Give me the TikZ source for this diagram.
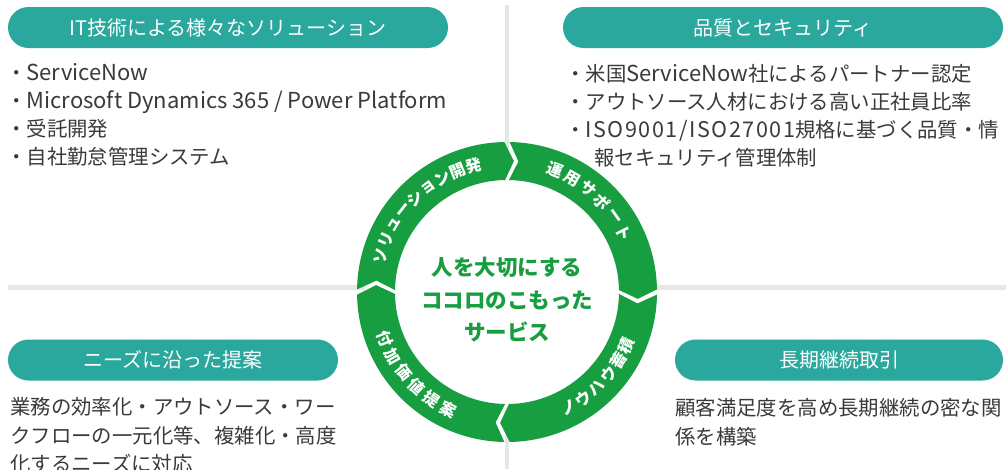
\documentclass[tikz,border=0pt]{standalone}
\usepackage{fontspec}
\setmainfont{Noto Sans CJK JP}
\newfontfamily\latwide[LetterSpace=7]{Noto Sans CJK JP}
\newcommand\lat[1]{{\fontsize{22}{24}\selectfont #1}}
\newcommand\latw[1]{{\latwide\fontsize{21.6}{24}\selectfont #1}}
\definecolor{ringgreen}{HTML}{169E40}
\definecolor{pillteal}{HTML}{2AA89E}
\definecolor{bodygray}{HTML}{3A3A3A}
\definecolor{divgray}{HTML}{E6E8E8}
\begin{document}
\begin{tikzpicture}[x=1pt,y=-1pt,
  pill/.style={rounded corners=20.5pt, fill=pillteal, text=white, minimum height=41pt,
    inner sep=0pt, font=\fontsize{20}{24}\selectfont},
  body/.style={anchor=west, inner sep=0pt, text=bodygray, text height=17.6pt, text depth=2.4pt,
    font=\fontsize{20.4}{24}\selectfont},
  divider/.style={draw=divgray, line width=5pt},
  ringseg/.style={fill=ringgreen},
  ringlabel/.style={inner sep=0pt, text=white, font=\fontsize{16}{16}\selectfont\bfseries},
  centertext/.style={align=center, text=ringgreen, inner sep=0pt,
    font=\fontsize{21.5}{32.5}\selectfont\bfseries}]
\useasboundingbox (0,0) rectangle (1006,469);
\fill[white] (0,0) rectangle (1006,469);

% dividers
\draw[divider] (8,287) -- (365,287);
\draw[divider] (650,287) -- (1006,287);
\draw[divider, line width=4pt] (507,5) -- (507,150);
\draw[divider, line width=4pt] (507,435) -- (507,469);

% header pills
\node[pill, minimum width=440pt] (h1) at (228,27.5) {IT技術による様々なソリューション};
\node[pill, minimum width=440pt] (h2) at (783,27.5) {品質とセキュリティ};
\node[pill, minimum width=330pt] (h3) at (173,360) {ニーズに沿った提案};
\node[pill, minimum width=328pt] (h4) at (839,360) {長期継続取引};

% top-left list
\node[body] (a1) at (6,73) {・\lat{ServiceNow}};
\node[body] (a2) at (6,101) {・\lat{Microsoft Dynamics 365 / Power Platform}};
\node[body] (a3) at (6,129) {・受託開発};
\node[body] (a4) at (6,157) {・自社勤怠管理システム};

% top-right list
\node[body] (b1) at (565,74) {・米国\lat{ServiceNow}社によるパートナー認定};
\node[body] (b2) at (565,102) {・アウトソース人材における高い正社員比率};
\node[body] (b3) at (565,130) {・\latw{ISO9001/ISO27001}規格に基づく品質・情};
\node[body] (b4) at (594,158) {報セキュリティ管理体制};

% bottom-left text
\node[body] (c1) at (10,407) {業務の効率化・アウトソース・ワー};
\node[body] (c2) at (10,436) {クフローの一元化等、複雑化・高度};
\node[body] (c3) at (10,464) {化するニーズに対応};

% bottom-right text
\node[body] (d1) at (675,408) {顧客満足度を高め長期継続の密な関};
\node[body] (d2) at (675,437) {係を構築};

% ring
\begin{scope}[shift={(507,292)}, yscale=-1]
  \foreach \A/\B in {179/91, 89/1, -1/-89, -91/-179}{
    \fill[ringseg] (\A:150) arc[start angle=\A, end angle=\B, radius=150]
      -- (\B-4:131) -- (\B:112) arc[start angle=\B, end angle=\A, radius=112]
      -- (\A-4:131) -- cycle;
  }
  \foreach \c [count=\i] in {ソ,リ,ュ,ー,シ,ョ,ン,開,発}{
    \pgfmathsetmacro\ang{134.4-(\i-5)*7.4}
    \node[ringlabel, rotate=\ang-90] (p\i) at (\ang:131) {\c};
  }
  \foreach \c [count=\i] in {運,用,サ,ポ,ー,ト}{
    \pgfmathsetmacro\ang{47.6-(\i-3.5)*8.3}
    \node[ringlabel, rotate=\ang-90] (q\i) at (\ang:131) {\c};
  }
  \foreach \c [count=\i] in {ノ,ウ,ハ,ウ,蓄,積}{
    \pgfmathsetmacro\ang{-43+(\i-3.5)*7.6}
    \node[ringlabel, rotate=\ang+90] (r\i) at (\ang:131) {\c};
  }
  \foreach \c [count=\i] in {付,加,価,値,提,案}{
    \pgfmathsetmacro\ang{-137.8+(\i-3.5)*8.5}
    \node[ringlabel, rotate=\ang+90] (s\i) at (\ang:131) {\c};
  }
\end{scope}

\node[centertext] (ctr) at (507,300) {人を大切にする\\ココロのこもった\\サービス};
\end{tikzpicture}
\end{document}
